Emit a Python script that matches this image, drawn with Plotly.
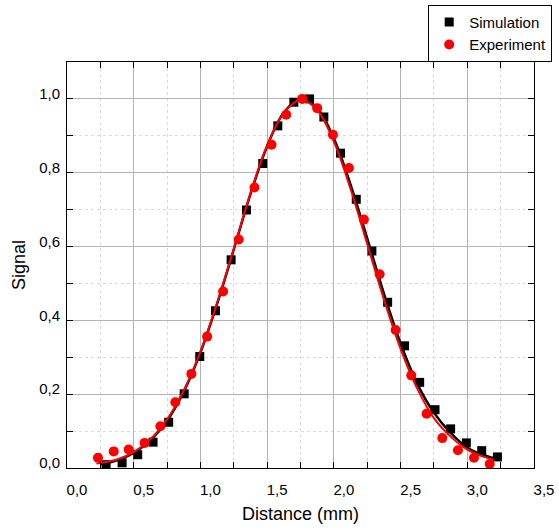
import plotly.graph_objects as go

# Simulation points
sim_x = [0.293, 0.413, 0.530, 0.645, 0.762, 0.878, 0.995, 1.113, 1.230, 1.345, 1.467,
         1.580, 1.700, 1.818, 1.925, 2.050, 2.168, 2.285, 2.403, 2.530, 2.643, 2.758,
         2.875, 2.993, 3.108, 3.226]
sim_y = [0.009, 0.014, 0.036, 0.070, 0.124, 0.201, 0.302, 0.426, 0.564, 0.699, 0.825,
         0.927, 0.991, 1.000, 0.951, 0.853, 0.728, 0.588, 0.449, 0.331, 0.232, 0.158,
         0.106, 0.068, 0.047, 0.030]

# Experiment points
exp_x = [0.232, 0.350, 0.462, 0.582, 0.700, 0.812, 0.932, 1.050, 1.170, 1.287, 1.405,
         1.533, 1.643, 1.763, 1.875, 1.993, 2.113, 2.225, 2.343, 2.463, 2.580, 2.695,
         2.813, 2.930, 3.050, 3.168]
exp_y = [0.028, 0.045, 0.050, 0.068, 0.113, 0.178, 0.255, 0.356, 0.478, 0.619, 0.760,
         0.876, 0.957, 1.000, 0.975, 0.903, 0.813, 0.673, 0.525, 0.374, 0.251, 0.147,
         0.081, 0.048, 0.028, 0.011]

# Fitted curves
simfit_x = [0.25, 0.375, 0.5, 0.625, 0.75, 0.875, 1.0, 1.125, 1.25, 1.375, 1.5, 1.625,
            1.75, 1.875, 2.0, 2.125, 2.25, 2.375, 2.5, 2.625, 2.75, 2.875, 3.0, 3.125, 3.22]
simfit_y = [0.010, 0.021, 0.041, 0.075, 0.128, 0.207, 0.313, 0.445, 0.592, 0.742, 0.872,
            0.963, 1.000, 0.975, 0.893, 0.768, 0.622, 0.473, 0.338, 0.228, 0.150, 0.095,
            0.055, 0.035, 0.025]

expfit_x = [0.22, 0.375, 0.5, 0.625, 0.75, 0.875, 1.0, 1.125, 1.25, 1.375, 1.5, 1.625,
            1.75, 1.875, 2.0, 2.125, 2.25, 2.375, 2.5, 2.625, 2.75, 2.875, 3.0, 3.125, 3.2]
expfit_y = [0.012, 0.023, 0.043, 0.078, 0.132, 0.210, 0.315, 0.447, 0.594, 0.744, 0.874,
            0.962, 0.998, 0.970, 0.884, 0.756, 0.607, 0.457, 0.323, 0.215, 0.135, 0.085,
            0.050, 0.030, 0.022]

x_ticks = [0, 0.5, 1.0, 1.5, 2.0, 2.5, 3.0, 3.5]
y_ticks = [0, 0.2, 0.4, 0.6, 0.8, 1.0]

fig = go.Figure()
fig.add_trace(go.Scatter(x=sim_x, y=sim_y, mode="markers", name="Simulation",
                         marker=dict(symbol="square", size=9, color="black")))
fig.add_trace(go.Scatter(x=simfit_x, y=simfit_y, mode="lines", showlegend=False,
                         line=dict(color="black", width=2.5, shape="spline")))
fig.add_trace(go.Scatter(x=expfit_x, y=expfit_y, mode="lines", showlegend=False,
                         line=dict(color="#ff0000", width=2, shape="spline")))
fig.add_trace(go.Scatter(x=exp_x, y=exp_y, mode="markers", name="Experiment",
                         marker=dict(symbol="circle", size=10, color="#ff0000")))

font = "Liberation Sans, Arial, sans-serif"
fig.update_layout(
    width=559, height=529,
    margin=dict(l=67, r=25, t=62, b=61, autoexpand=False),
    paper_bgcolor="white", plot_bgcolor="white",
    separators=",.",
    font=dict(family=font, size=15, color="black"),
    showlegend=True,
    legend=dict(xref="container", yref="container", x=0.766, y=0.991,
                xanchor="left", yanchor="top",
                bordercolor="black", borderwidth=1, bgcolor="white",
                font=dict(size=15, family=font), itemwidth=30,
                tracegroupgap=0),
)
common = dict(showline=True, linecolor="black", linewidth=1, mirror="ticks",
              ticks="inside", ticklen=6, tickcolor="black",
              showgrid=True, gridcolor="#b4b4b4", gridwidth=1,
              zeroline=False, automargin=False, tickformat=".1f")
fig.update_xaxes(
    range=[0, 3.5], tickvals=x_ticks, ticklabelshift=10, ticklabelstandoff=8,
    minor=dict(dtick=0.25, ticks="inside", ticklen=6, tickcolor="black",
               showgrid=True, gridcolor="#d9d9d9", griddash="dot"),
    title=dict(text="Distance (mm)", font=dict(size=18), standoff=10),
    **common,
)
fig.update_yaxes(
    range=[0, 1.1], tickvals=y_ticks, ticklabelshift=-5, ticklabelstandoff=3,
    minor=dict(dtick=0.1, ticks="inside", ticklen=6, tickcolor="black",
               showgrid=True, gridcolor="#d9d9d9", griddash="dot"),
    title=dict(text="Signal", font=dict(size=18), standoff=8),
    **common,
)

fig.write_html("out.html")
